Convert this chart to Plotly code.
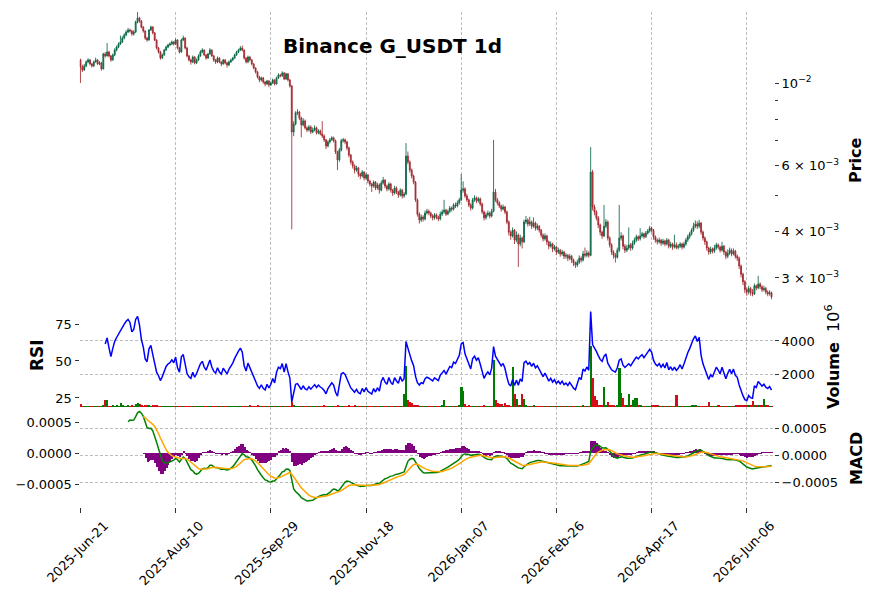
import numpy as np
import pandas as pd
import plotly.graph_objects as go

# ---------------- data (prices in 1e-3 USDT, volume in millions) ----------------
start_date = "2025-06-21"
first_open_milli = 11.53

close_milli = [
    11.04, 10.84, 11.11, 11.39, 11.53, 11.25, 11.11, 11.39, 11.53, 11.25,
    11.32, 10.91, 11.96, 11.82, 12.11, 11.82, 11.53, 11.89, 12.26, 12.49,
    12.72, 12.88, 13.20, 13.45, 13.70, 13.87, 13.79, 13.53, 13.70, 14.57,
    14.94, 14.66, 14.13, 13.79, 13.20, 13.04, 13.87, 14.13, 13.62, 13.04,
    12.41, 12.11, 11.67, 11.89, 12.26, 12.49, 12.64, 12.72, 12.88, 12.72,
    13.04, 12.41, 12.11, 13.04, 13.20, 12.41, 11.82, 11.53, 11.39, 11.74,
    11.32, 11.53, 11.82, 12.11, 12.26, 11.89, 11.67, 11.96, 12.26, 11.82,
    11.53, 11.39, 11.67, 11.39, 11.25, 11.53, 11.32, 11.18, 11.39, 11.53,
    11.67, 11.89, 12.11, 12.26, 12.41, 12.26, 11.67, 11.39, 11.74, 11.53,
    11.25, 10.97, 10.71, 10.38, 10.19, 10.32, 10.06, 9.94, 10.13, 9.88,
    10.00, 10.19, 9.94, 10.32, 10.51, 10.45, 10.64, 10.25, 10.58, 10.19,
    9.82, 7.39, 7.76, 8.32, 8.36, 8.06, 7.72, 7.91, 7.58, 7.48,
    7.62, 7.39, 7.48, 7.58, 7.35, 7.44, 7.30, 7.21, 7.04, 6.78,
    6.95, 7.04, 7.13, 7.00, 6.53, 6.22, 6.61, 7.00, 7.04, 6.95,
    6.70, 6.41, 6.14, 6.00, 5.84, 5.92, 5.70, 5.63, 5.77, 5.56,
    5.67, 5.46, 5.36, 5.29, 5.42, 5.23, 5.33, 5.16, 5.39, 5.49,
    5.29, 5.20, 5.36, 5.16, 5.07, 5.23, 5.10, 5.01, 5.16, 4.98,
    5.04, 6.37, 6.14, 5.84, 5.63, 5.42, 4.86, 4.45, 4.29, 4.37,
    4.32, 4.48, 4.53, 4.48, 4.40, 4.35, 4.43, 4.37, 4.32, 4.45,
    4.51, 4.56, 4.45, 4.53, 4.62, 4.59, 4.71, 4.68, 4.77, 4.86,
    5.16, 5.20, 4.98, 4.86, 4.71, 4.62, 4.86, 4.92, 4.83, 4.89,
    4.74, 4.51, 4.35, 4.43, 4.48, 4.40, 4.53, 5.10, 4.86, 4.77,
    4.68, 4.59, 4.65, 4.51, 4.24, 3.98, 3.89, 4.03, 3.79, 3.91,
    3.70, 3.84, 3.75, 4.24, 4.29, 4.19, 4.24, 4.13, 4.21, 4.08,
    4.13, 4.03, 3.91, 3.82, 3.89, 3.75, 3.65, 3.70, 3.59, 3.63,
    3.52, 3.56, 3.48, 3.52, 3.43, 3.45, 3.39, 3.43, 3.35, 3.29,
    3.25, 3.31, 3.39, 3.35, 3.48, 3.45, 3.50, 3.45, 5.77, 4.65,
    4.51, 4.35, 4.16, 3.98, 3.89, 4.13, 4.24, 3.84, 3.68, 3.52,
    3.45, 3.41, 3.56, 3.84, 3.89, 3.65, 3.56, 3.61, 3.68, 3.61,
    3.72, 3.79, 3.87, 3.82, 3.89, 3.94, 3.87, 3.96, 4.01, 4.08,
    4.03, 3.87, 3.79, 3.75, 3.79, 3.72, 3.77, 3.70, 3.79, 3.65,
    3.70, 3.63, 3.68, 3.62, 3.65, 3.70, 3.63, 3.70, 3.79, 3.87,
    3.94, 4.03, 4.13, 4.19, 4.13, 4.21, 3.98, 3.84, 3.75, 3.61,
    3.52, 3.59, 3.54, 3.61, 3.68, 3.63, 3.56, 3.65, 3.52, 3.43,
    3.50, 3.56, 3.48, 3.54, 3.43, 3.39, 3.23, 3.07, 2.93, 2.79,
    2.75, 2.81, 2.74, 2.72, 2.86, 2.82, 2.89, 2.84, 2.79, 2.81,
    2.75, 2.72, 2.74, 2.67,
]

high_milli = [
    11.62, 11.20, 11.25, 11.50, 11.66, 11.60, 11.32, 11.48, 11.70, 11.58,
    11.45, 11.40, 12.05, 12.10, 12.80, 12.20, 11.90, 12.00, 12.40, 12.60,
    12.85, 13.40, 13.35, 13.60, 13.85, 14.05, 14.00, 13.90, 13.85, 14.70,
    15.50, 15.05, 14.75, 14.20, 13.85, 13.30, 13.95, 14.25, 14.20, 13.70,
    13.10, 12.50, 12.20, 12.00, 12.35, 12.60, 12.75, 12.85, 13.00, 12.95,
    13.15, 13.10, 12.50, 13.15, 13.40, 13.25, 12.50, 11.90, 11.62, 11.85,
    11.80, 11.65, 11.95, 12.25, 12.40, 12.30, 11.95, 12.05, 12.40, 12.30,
    11.90, 11.60, 11.78, 11.72, 11.45, 11.60, 11.58, 11.40, 11.48, 11.62,
    11.75, 11.98, 12.20, 12.35, 12.55, 12.60, 12.30, 11.72, 11.85, 11.80,
    11.60, 11.30, 11.02, 10.78, 10.45, 10.40, 10.38, 10.12, 10.20, 10.18,
    10.10, 10.28, 10.24, 10.40, 10.62, 10.58, 10.75, 10.70, 10.66, 10.62,
    10.24, 9.88, 7.90, 8.40, 8.50, 8.42, 8.12, 8.05, 7.98, 7.65,
    7.72, 7.70, 7.60, 7.70, 7.64, 7.52, 7.50, 7.90, 7.28, 7.08,
    7.02, 7.12, 7.20, 7.18, 7.05, 6.58, 6.70, 7.08, 7.12, 7.10,
    7.00, 6.75, 6.45, 6.20, 6.05, 6.00, 5.96, 5.75, 5.84, 5.80,
    5.74, 5.70, 5.50, 5.40, 5.48, 5.46, 5.40, 5.38, 5.48, 5.60,
    5.52, 5.34, 5.42, 5.40, 5.20, 5.30, 5.28, 5.14, 5.22, 5.20,
    5.10, 6.90, 6.55, 6.20, 5.90, 5.68, 5.46, 4.90, 4.50, 4.44,
    4.42, 4.55, 4.60, 4.58, 4.52, 4.45, 4.48, 4.47, 4.41, 4.52,
    4.58, 4.86, 4.60, 4.58, 4.68, 4.66, 4.76, 4.78, 4.84, 4.92,
    5.70, 5.45, 5.25, 5.05, 4.90, 4.76, 4.92, 5.00, 4.96, 4.95,
    4.93, 4.78, 4.55, 4.50, 4.55, 4.52, 4.60, 7.04, 5.20, 4.92,
    4.82, 4.72, 4.72, 4.68, 4.55, 4.28, 4.02, 4.10, 4.06, 4.00,
    3.95, 3.92, 3.88, 4.30, 4.40, 4.34, 4.38, 4.28, 4.36, 4.25,
    4.20, 4.16, 4.06, 3.95, 3.95, 3.92, 3.78, 3.76, 3.73, 3.68,
    3.66, 3.62, 3.59, 3.57, 3.55, 3.50, 3.48, 3.48, 3.46, 3.38,
    3.32, 3.36, 3.45, 3.43, 3.55, 3.62, 3.56, 3.54, 6.73, 5.85,
    4.72, 4.56, 4.40, 4.20, 4.02, 4.71, 4.32, 4.28, 3.88, 3.72,
    3.56, 3.50, 3.62, 4.71, 3.98, 3.92, 3.70, 3.68, 4.10, 3.72,
    3.78, 3.85, 3.92, 3.90, 4.08, 3.99, 3.97, 4.01, 4.06, 4.14,
    4.12, 4.06, 3.90, 3.83, 3.85, 3.82, 3.82, 3.80, 3.84, 3.82,
    3.75, 3.73, 3.92, 3.74, 3.70, 3.74, 3.73, 3.75, 3.84, 3.92,
    3.99, 4.08, 4.22, 4.28, 4.26, 4.30, 4.24, 4.02, 3.88, 3.78,
    3.64, 3.64, 3.62, 3.68, 3.73, 3.71, 3.66, 3.75, 3.68, 3.55,
    3.58, 3.62, 3.60, 3.60, 3.57, 3.47, 3.42, 3.26, 3.10, 2.96,
    2.83, 2.86, 2.84, 2.80, 2.90, 2.88, 3.04, 2.92, 2.87, 2.86,
    2.84, 2.78, 2.78, 2.76,
]

low_milli = [
    10.00, 10.70, 10.78, 11.02, 11.30, 11.15, 11.00, 11.05, 11.33, 11.18,
    11.16, 10.80, 10.88, 11.70, 11.78, 11.70, 11.40, 11.48, 11.80, 12.15,
    12.40, 12.65, 12.80, 13.10, 13.35, 13.60, 13.65, 13.40, 13.40, 13.62,
    14.45, 14.50, 14.00, 13.65, 13.05, 12.90, 12.98, 13.80, 13.50, 12.95,
    12.30, 12.00, 11.55, 11.60, 11.82, 12.18, 12.40, 12.55, 12.65, 12.60,
    12.65, 12.30, 12.00, 12.05, 12.95, 12.30, 11.70, 11.42, 11.20, 11.30,
    11.22, 11.25, 11.45, 11.75, 12.02, 11.80, 11.55, 11.60, 11.90, 11.75,
    11.40, 11.25, 11.30, 11.30, 11.10, 11.20, 11.22, 11.00, 11.10, 11.32,
    11.45, 11.60, 11.82, 12.02, 12.18, 12.15, 11.55, 11.28, 11.30, 11.42,
    11.15, 10.88, 10.60, 10.28, 10.05, 10.10, 9.95, 9.80, 9.88, 9.75,
    9.82, 9.94, 9.85, 9.90, 10.25, 10.36, 10.38, 10.18, 10.20, 10.10,
    9.72, 4.05, 7.20, 7.70, 8.20, 7.95, 7.15, 7.65, 7.50, 7.38,
    7.42, 7.30, 7.33, 7.42, 7.28, 7.28, 7.24, 7.12, 6.95, 6.65,
    6.72, 6.88, 7.00, 6.92, 6.45, 5.84, 6.15, 6.55, 6.92, 6.85,
    6.60, 6.32, 6.05, 5.90, 5.72, 5.78, 5.60, 5.52, 5.58, 5.48,
    5.50, 5.38, 5.28, 5.10, 5.24, 5.16, 5.18, 5.05, 5.12, 5.34,
    5.22, 5.12, 5.15, 5.08, 4.98, 5.02, 5.04, 4.92, 4.96, 4.90,
    4.92, 5.00, 6.05, 5.75, 5.55, 5.35, 4.80, 4.38, 4.20, 4.24,
    4.25, 4.28, 4.44, 4.42, 4.34, 4.28, 4.30, 4.31, 4.26, 4.28,
    4.40, 4.46, 4.40, 4.42, 4.48, 4.52, 4.55, 4.62, 4.64, 4.72,
    4.82, 5.08, 4.92, 4.80, 4.65, 4.55, 4.58, 4.80, 4.76, 4.78,
    4.68, 4.45, 4.28, 4.30, 4.38, 4.34, 4.36, 4.50, 4.80, 4.70,
    4.62, 4.52, 4.55, 4.45, 4.18, 3.90, 3.80, 3.85, 3.70, 3.74,
    3.21, 3.65, 3.60, 3.72, 4.18, 4.12, 4.14, 4.06, 4.09, 4.02,
    4.03, 3.97, 3.85, 3.76, 3.78, 3.68, 3.58, 3.62, 3.52, 3.55,
    3.46, 3.48, 3.42, 3.44, 3.37, 3.38, 3.33, 3.35, 3.29, 3.23,
    3.19, 3.21, 3.27, 3.30, 3.32, 3.40, 3.41, 3.40, 3.43, 4.55,
    4.42, 4.28, 4.08, 3.90, 3.82, 3.86, 4.08, 3.78, 3.62, 3.46,
    3.38, 3.30, 3.38, 3.52, 3.78, 3.58, 3.50, 3.52, 3.57, 3.55,
    3.57, 3.68, 3.75, 3.77, 3.78, 3.85, 3.82, 3.84, 3.92, 3.97,
    3.98, 3.80, 3.73, 3.69, 3.71, 3.66, 3.68, 3.65, 3.67, 3.60,
    3.61, 3.57, 3.60, 3.58, 3.58, 3.61, 3.58, 3.60, 3.66, 3.75,
    3.82, 3.90, 3.99, 4.08, 4.06, 4.08, 3.92, 3.78, 3.68, 3.55,
    3.46, 3.48, 3.49, 3.50, 3.57, 3.58, 3.51, 3.53, 3.46, 3.37,
    3.39, 3.46, 3.43, 3.45, 3.38, 3.33, 3.17, 3.01, 2.87, 2.73,
    2.69, 2.71, 2.69, 2.68, 2.70, 2.78, 2.80, 2.80, 2.75, 2.76,
    2.71, 2.68, 2.69, 2.63,
]

volume_millions = [
    160, 40, 30, 25, 35, 20, 30, 25, 40, 30,
    35, 60, 80, 400, 400, 50, 40, 150, 60, 120,
    60, 250, 80, 60, 50, 70, 60, 150, 60, 200,
    250, 200, 120, 60, 90, 70, 100, 60, 80, 70,
    100, 50, 60, 40, 30, 40, 30, 25, 30, 30,
    40, 30, 25, 35, 30, 25, 20, 25, 30, 20,
    20, 25, 20, 30, 25, 20, 20, 25, 30, 20,
    20, 15, 20, 25, 20, 15, 20, 25, 20, 15,
    20, 25, 30, 25, 30, 20, 25, 30, 20, 100,
    40, 30, 35, 100, 40, 30, 35, 40, 30, 35,
    30, 25, 30, 35, 30, 25, 30, 35, 25, 30,
    60, 300, 120, 60, 40, 50, 60, 40, 35, 30,
    30, 35, 25, 30, 30, 25, 30, 40, 90, 60,
    40, 35, 30, 35, 60, 100, 50, 40, 30, 35,
    40, 90, 50, 40, 100, 40, 40, 30, 35, 40,
    30, 35, 40, 30, 25, 30, 35, 30, 25, 30,
    30, 25, 30, 35, 30, 25, 30, 40, 30, 60,
    760, 2480, 400, 300, 250, 150, 120, 90, 60, 40,
    40, 35, 30, 40, 35, 30, 25, 30, 40, 50,
    80, 420, 60, 40, 35, 40, 30, 40, 50, 90,
    1190, 960, 200, 60, 80, 50, 60, 40, 35, 40,
    50, 60, 70, 40, 35, 40, 60, 2820, 420, 250,
    200, 200, 60, 250, 120, 90, 60, 2420, 760, 460,
    150, 90, 800, 500, 120, 60, 50, 40, 120, 40,
    35, 40, 30, 35, 30, 40, 30, 25, 30, 35,
    30, 25, 30, 35, 30, 25, 30, 35, 30, 40,
    35, 40, 50, 60, 100, 60, 50, 60, 3700, 1730,
    660, 400, 150, 120, 100, 1230, 150, 280, 120, 90,
    70, 60, 150, 2340, 870, 520, 150, 120, 800, 120,
    400, 520, 520, 100, 80, 60, 50, 60, 50, 40,
    80, 80, 90, 80, 40, 30, 35, 40, 30, 35,
    40, 30, 40, 700, 40, 35, 30, 35, 40, 60,
    50, 100, 100, 90, 50, 40, 60, 50, 40, 50,
    280, 50, 40, 35, 40, 120, 40, 35, 40, 50,
    40, 35, 60, 50, 70, 80, 90, 100, 120, 140,
    120, 90, 100, 340, 100, 80, 90, 70, 80, 460,
    80, 70, 60, 50,
]

price_tick_values = [0.003, 0.004, 0.006, 0.01]
price_tick_text = ["3 × 10<sup>−3</sup>", "4 × 10<sup>−3</sup>",
                   "6 × 10<sup>−3</sup>", "10<sup>−2</sup>"]
price_minor_ticks = [0.005, 0.007, 0.008, 0.009]
rsi_ticks = [25, 50, 75]
volume_ticks = [2000, 4000]
macd_ticks = [-0.0005, 0.0, 0.0005]
date_tick_step = 50

# ---------------- derived series ----------------
close = np.array(close_milli) * 1e-3
high = np.array(high_milli) * 1e-3
low = np.array(low_milli) * 1e-3
open_ = np.array([first_open_milli] + close_milli[:-1]) * 1e-3
volume = np.array(volume_millions, dtype=float)
n = len(close)
xi = np.arange(n)
dates = pd.date_range(start_date, periods=n, freq="D")

s = pd.Series(close)
delta = s.diff()
up_move = delta.where(delta > 0, 0.0)
down_move = -delta.where(delta < 0, 0.0)
gain = up_move.ewm(alpha=1 / 14, min_periods=14, adjust=False).mean()
loss = down_move.ewm(alpha=1 / 14, min_periods=14, adjust=False).mean()
rsi = 100 - 100 / (1 + gain / loss)
ema12 = s.ewm(span=12, adjust=False, min_periods=12).mean()
ema26 = s.ewm(span=26, adjust=False, min_periods=26).mean()
macd = ema12 - ema26
signal = macd.ewm(span=9, adjust=False, min_periods=9).mean()
hist = macd - signal

UP, DN = "rgba(0,99,64,0.82)", "rgba(160,33,40,0.82)"
VUP, VDN = "#007a00", "#d50d18"
vcol = [VUP if c >= o else VDN for c, o in zip(close, open_)]

GRID = "#bdbdbd"
GDASH = "3px,2px"
FONT = "DejaVu Sans"
W, H = 876, 599
XD = [79.5 / W, 774 / W]
def py(px):
    return 1 - px / H

fig = go.Figure()
fig.add_trace(go.Candlestick(
    x=xi, open=open_, high=high, low=low, close=close, xaxis="x", yaxis="y",
    increasing=dict(line=dict(color=UP, width=1), fillcolor=UP),
    decreasing=dict(line=dict(color=DN, width=1), fillcolor=DN),
    whiskerwidth=0, showlegend=False, hoverinfo="skip"))
fig.add_trace(go.Bar(x=xi, y=volume, marker=dict(color=vcol, line=dict(width=0)),
                     width=0.9, xaxis="x2", yaxis="y2", showlegend=False))
fig.add_trace(go.Scatter(x=xi, y=rsi, mode="lines", line=dict(color="blue", width=1.5),
                         xaxis="x2", yaxis="y3", showlegend=False))
fig.add_trace(go.Bar(x=xi, y=hist, marker=dict(color="purple", line=dict(width=0)),
                     width=0.6, xaxis="x3", yaxis="y4", showlegend=False))
fig.add_trace(go.Scatter(x=xi, y=macd, mode="lines", line=dict(color="green", width=1.5),
                         xaxis="x3", yaxis="y5", showlegend=False))
fig.add_trace(go.Scatter(x=xi, y=signal, mode="lines", line=dict(color="orange", width=1.5),
                         xaxis="x3", yaxis="y5", showlegend=False))

tickvals_x = list(range(0, n, date_tick_step))
ticktext_x = [dates[i].strftime("%Y-%b-%d") for i in tickvals_x]
XR = [-0.5, 364.3]
xbase = dict(range=XR, autorange=False, tickmode="array", tickvals=tickvals_x, showgrid=True,
             gridcolor=GRID, griddash=GDASH, gridwidth=0.8, zeroline=False, showline=False,
             domain=XD, rangeslider=dict(visible=False))
tickfont = dict(family=FONT, size=13, color="black")
ybase = dict(zeroline=False, showline=False, ticks="outside", ticklen=4, tickcolor="#333",
             tickfont=tickfont, tickmode="array", autorange=False)

fig.update_layout(
    width=W, height=H, margin=dict(l=0, r=0, t=0, b=0, autoexpand=False),
    paper_bgcolor="white", plot_bgcolor="white", showlegend=False,
    font=dict(family=FONT, color="black"), bargap=0,
    xaxis=dict(**xbase, anchor="y", showticklabels=False, ticks=""),
    xaxis2=dict(**xbase, anchor="y2", showticklabels=False, ticks=""),
    xaxis3=dict(**xbase, anchor="y4", showticklabels=True, ticktext=ticktext_x,
                tickangle=-45, ticks="outside", ticklen=5, tickcolor="#333", tickfont=tickfont,
                ticklabelshift=24),
    yaxis=dict(**ybase, domain=[py(307), py(12)], anchor="x", side="right", type="log",
               range=[-2.6007, -1.8096], tickvals=price_tick_values, ticktext=price_tick_text,
               showgrid=False,
               minor=dict(tickmode="array", tickvals=price_minor_ticks, ticks="outside",
                          ticklen=3, tickcolor="#333", showgrid=False)),
    yaxis6=dict(overlaying="y", anchor="x", side="right", type="log", range=[-2.6007, -1.8096],
                autorange=False, tickmode="array", tickvals=[0.01], showticklabels=False,
                ticks="", showgrid=True, gridcolor=GRID, griddash=GDASH, gridwidth=0.8,
                zeroline=False),
    yaxis2=dict(**ybase, domain=[py(407), py(307)], anchor="x2", side="right",
                range=[0, 6060], tickvals=volume_ticks, showgrid=True, gridcolor=GRID,
                griddash=GDASH, gridwidth=0.8),
    yaxis3=dict(**ybase, overlaying="y2", anchor="x2", side="left", range=[18.9, 86.5],
                tickvals=rsi_ticks, showgrid=False),
    # histogram on the left axis, MACD / signal lines on the right axis
    yaxis4=dict(**ybase, domain=[py(507), py(407)], anchor="x3", side="left",
                range=[-0.000871, 0.000742], tickvals=macd_ticks, tickformat=".4f",
                showgrid=False),
    yaxis5=dict(**ybase, overlaying="y4", anchor="x3", side="right",
                range=[-0.000963, 0.000889], tickvals=macd_ticks, tickformat=".4f",
                showgrid=True, gridcolor=GRID, griddash=GDASH, gridwidth=0.8),
)

ann = [
    dict(text="<b>Binance G_USDT 1d</b>", x=392 / W, y=py(46), size=20, angle=0),
    dict(text="<b>Price</b>", x=855 / W, y=py(160), size=16, angle=-90),
    dict(text="<b>RSI</b>", x=37 / W, y=py(355), size=17, angle=-90),
    dict(text="<b>Volume</b>  10<sup>6</sup>", x=833 / W, y=py(357), size=16, angle=-90),
    dict(text="<b>MACD</b>", x=856 / W, y=py(459), size=16, angle=-90),
]
for a in ann:
    fig.add_annotation(xref="paper", yref="paper", showarrow=False,
                       xanchor="center", yanchor="middle",
                       font=dict(family=FONT, color="black", size=a["size"]),
                       text=a["text"], x=a["x"], y=a["y"], textangle=a["angle"])

fig.write_html("out.html", config={"displayModeBar": False})
